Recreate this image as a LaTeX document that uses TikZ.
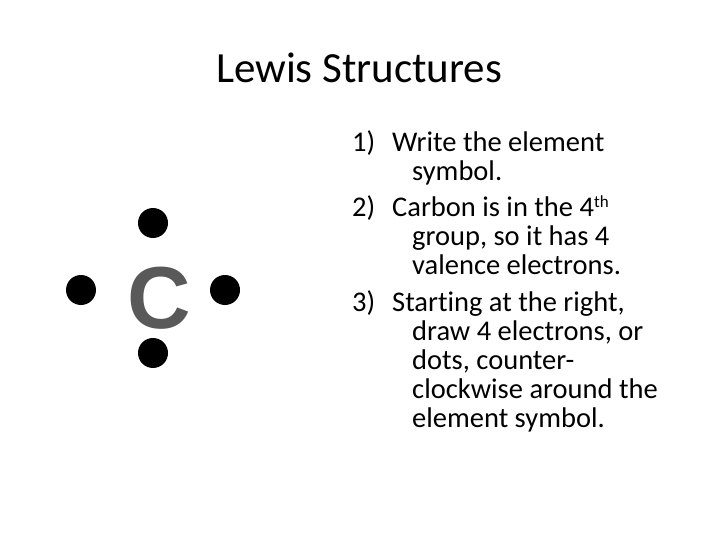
\documentclass[tikz,border=0pt]{standalone}
\usepackage{fontspec}
\setmainfont{Carlito}[Ligatures=NoCommon]
\newfontfamily\cfont{Liberation Sans}
\begin{document}
\begin{tikzpicture}[x=1pt,y=-1pt,
  dot/.style={circle,fill=black,minimum size=30pt,inner sep=0pt},
  ln/.style={anchor=base west,inner sep=0pt,font=\fontsize{28.5}{32}\selectfont}]
\useasboundingbox (0,0) rectangle (720,540);
\node[font=\fontsize{43}{46}\selectfont] (title) at (359,68) {Lewis Structures};
\node[dot] (d1) at (153,223) {};
\node[dot] (d2) at (81,290) {};
\node[dot] (d3) at (225,290) {};
\node[dot] (d4) at (153,353) {};
\node[font=\cfont\bfseries\fontsize{88}{88}\selectfont,text=black!65,inner sep=0pt] (c) at (159,298) {C};
\node[ln] (n1) at (352,152) {1)};
\node[ln] (l1) at (392,152) {Write the element};
\node[ln] (l2) at (412,181) {symbol.};
\node[ln] (n2) at (352,216) {2)};
\node[ln] (l3) at (392,216) {Carbon is in the 4\raisebox{0.6ex}{\fontsize{17}{17}\selectfont th}};
\node[ln] (l4) at (412,245) {group, so it has 4};
\node[ln] (l5) at (412,274) {valence electrons.};
\node[ln] (n3) at (352,311) {3)};
\node[ln] (l6) at (392,311) {Starting at the right,};
\node[ln] (l7) at (412,340) {draw 4 electrons, or};
\node[ln] (l8) at (412,369) {dots, counter-};
\node[ln] (l9) at (412,398) {clockwise around the};
\node[ln] (l10) at (412,427) {element symbol.};
\end{tikzpicture}
\end{document}
